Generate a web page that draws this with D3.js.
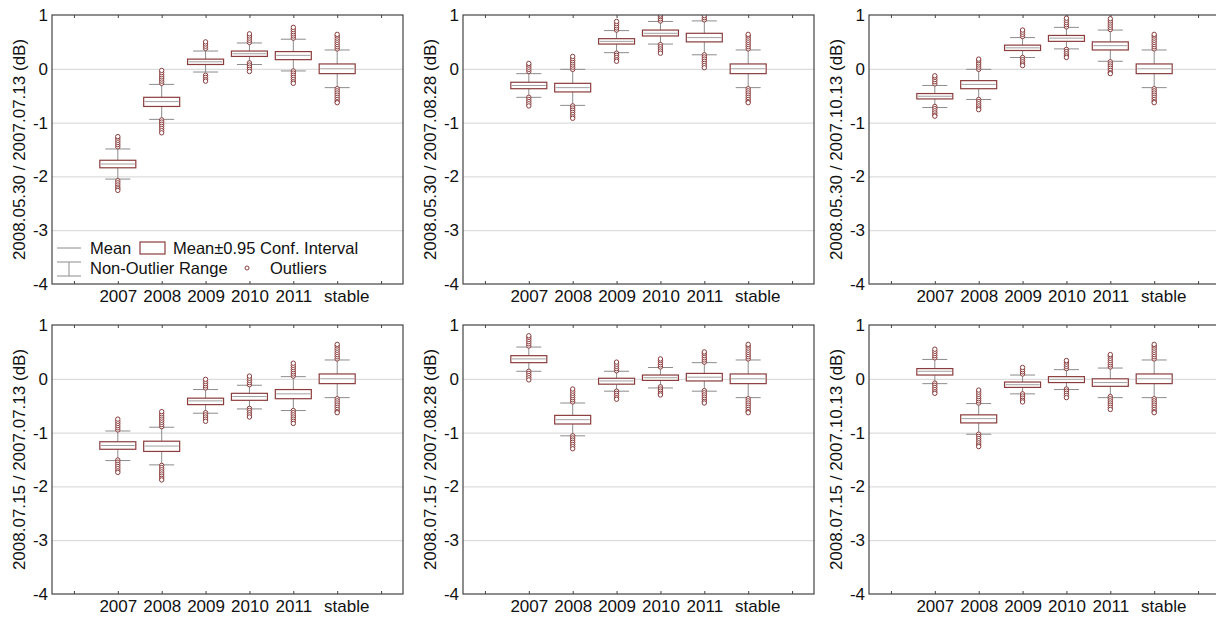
<!DOCTYPE html>
<html>
<head>
<meta charset="utf-8">
<script src="https://cdn.jsdelivr.net/npm/d3@7"></script>
<style>
  body { margin: 0; background: #fff; }
  svg { display: block; }
  svg text { font-family: "Liberation Sans", Arial, sans-serif; }
</style>
</head>
<body>
<svg width="1216" height="620"></svg>
<script>
const categories = ["2007", "2008", "2009", "2010", "2011", "stable"];
const yTicks = [1, 0, -1, -2, -3, -4];
const gridValues = [0, -1, -2, -3];

const yTitles = [
  "2008.05.30 / 2007.07.13 (dB)",
  "2008.05.30 / 2007.08.28 (dB)",
  "2008.05.30 / 2007.10.13 (dB)",
  "2008.07.15 / 2007.07.13 (dB)",
  "2008.07.15 / 2007.08.28 (dB)",
  "2008.07.15 / 2007.10.13 (dB)"
];

// mean per panel, per category
const means = [
  [-1.77, -0.61, 0.13, 0.28, 0.25, 0],
  [-0.31, -0.35, 0.51, 0.66, 0.58, 0],
  [-0.51, -0.29, 0.39, 0.57, 0.43, 0],
  [-1.24, -1.25, -0.41, -0.33, -0.28, 0],
  [0.37, -0.76, -0.04, 0.02, 0.03, 0],
  [0.14, -0.74, -0.11, -0.01, -0.07, 0]
];
// mean ± 0.95 conf. interval
const ciLow = [
  [-1.84, -0.70, 0.08, 0.23, 0.17, -0.09],
  [-0.37, -0.43, 0.46, 0.61, 0.50, -0.09],
  [-0.56, -0.37, 0.34, 0.51, 0.35, -0.09],
  [-1.31, -1.35, -0.48, -0.40, -0.37, -0.09],
  [0.30, -0.84, -0.10, -0.03, -0.04, -0.09],
  [0.07, -0.82, -0.16, -0.07, -0.14, -0.09]
];
const ciHigh = [
  [-1.70, -0.53, 0.18, 0.33, 0.32, 0.09],
  [-0.25, -0.27, 0.56, 0.72, 0.66, 0.09],
  [-0.46, -0.22, 0.44, 0.62, 0.50, 0.09],
  [-1.17, -1.16, -0.36, -0.27, -0.20, 0.09],
  [0.43, -0.68, 0.01, 0.07, 0.10, 0.09],
  [0.19, -0.67, -0.06, 0.04, 0.00, 0.09]
];
// non-outlier range
const whiskerLow = [
  [-2.05, -0.94, -0.06, 0.08, -0.04, -0.35],
  [-0.53, -0.68, 0.30, 0.46, 0.26, -0.35],
  [-0.72, -0.57, 0.21, 0.37, 0.14, -0.35],
  [-1.52, -1.60, -0.64, -0.56, -0.59, -0.35],
  [0.14, -1.06, -0.23, -0.17, -0.23, -0.35],
  [-0.09, -1.03, -0.28, -0.20, -0.35, -0.35]
];
const whiskerHigh = [
  [-1.49, -0.29, 0.33, 0.48, 0.55, 0.35],
  [-0.09, -0.01, 0.71, 0.88, 0.89, 0.35],
  [-0.31, -0.01, 0.58, 0.77, 0.72, 0.35],
  [-0.97, -0.90, -0.20, -0.12, 0.04, 0.35],
  [0.59, -0.45, 0.14, 0.21, 0.30, 0.35],
  [0.36, -0.46, 0.07, 0.17, 0.20, 0.35]
];
// outliers above the range
const outliersHigh = [
  [[-1.45, -1.41, -1.37, -1.33, -1.29, -1.26],
   [-0.27, -0.23, -0.19, -0.15, -0.11, -0.07, -0.03],
   [0.38, 0.42, 0.46, 0.50],
   [0.49, 0.53, 0.57, 0.61, 0.65],
   [0.57, 0.61, 0.65, 0.69, 0.73, 0.77],
   [0.37, 0.41, 0.45, 0.49, 0.53, 0.57, 0.61, 0.64]],
  [[-0.05, -0.01, 0.03, 0.07, 0.10],
   [-0.01, 0.03, 0.07, 0.11, 0.15, 0.19, 0.23],
   [0.72, 0.76, 0.80, 0.84, 0.88],
   [0.89, 0.93, 0.97, 1.0],
   [0.91, 0.95, 0.99],
   [0.37, 0.41, 0.45, 0.49, 0.53, 0.57, 0.61, 0.64]],
  [[-0.28, -0.24, -0.20, -0.16, -0.13],
   [-0.01, 0.03, 0.07, 0.11, 0.15, 0.18],
   [0.60, 0.64, 0.68, 0.72],
   [0.78, 0.82, 0.86, 0.90, 0.94],
   [0.73, 0.77, 0.81, 0.85, 0.89, 0.93],
   [0.37, 0.41, 0.45, 0.49, 0.53, 0.57, 0.61, 0.64]],
  [[-0.95, -0.91, -0.87, -0.83, -0.79, -0.75],
   [-0.89, -0.85, -0.81, -0.77, -0.73, -0.69, -0.65, -0.61],
   [-0.17, -0.13, -0.09, -0.05, -0.01],
   [-0.11, -0.07, -0.03, 0.01, 0.05],
   [0.05, 0.09, 0.13, 0.17, 0.21, 0.25, 0.29],
   [0.37, 0.41, 0.45, 0.49, 0.53, 0.57, 0.61, 0.64]],
  [[0.61, 0.65, 0.69, 0.73, 0.77, 0.80],
   [-0.43, -0.39, -0.35, -0.31, -0.27, -0.23, -0.19],
   [0.15, 0.19, 0.23, 0.27, 0.31],
   [0.22, 0.26, 0.30, 0.34, 0.37],
   [0.31, 0.35, 0.39, 0.43, 0.47, 0.50],
   [0.37, 0.41, 0.45, 0.49, 0.53, 0.57, 0.61, 0.64]],
  [[0.39, 0.43, 0.47, 0.51, 0.55],
   [-0.45, -0.41, -0.37, -0.33, -0.29, -0.25, -0.21],
   [0.09, 0.13, 0.17, 0.21],
   [0.19, 0.23, 0.27, 0.31, 0.34],
   [0.22, 0.26, 0.30, 0.34, 0.38, 0.42, 0.45],
   [0.37, 0.41, 0.45, 0.49, 0.53, 0.57, 0.61, 0.64]]
];
// outliers below the range
const outliersLow = [
  [[-2.08, -2.12, -2.16, -2.20, -2.23, -2.26],
   [-0.95, -0.99, -1.03, -1.07, -1.11, -1.15, -1.19],
   [-0.12, -0.16, -0.20, -0.23],
   [0.11, 0.07, 0.03, -0.01, -0.05],
   [-0.04, -0.08, -0.12, -0.16, -0.20, -0.24, -0.27],
   [-0.37, -0.41, -0.45, -0.49, -0.53, -0.57, -0.61, -0.63]],
  [[-0.53, -0.57, -0.61, -0.65, -0.69],
   [-0.69, -0.73, -0.77, -0.81, -0.85, -0.89, -0.92],
   [0.29, 0.25, 0.21, 0.17, 0.14],
   [0.45, 0.41, 0.37, 0.33, 0.29],
   [0.26, 0.22, 0.18, 0.14, 0.10, 0.06, 0.02],
   [-0.37, -0.41, -0.45, -0.49, -0.53, -0.57, -0.61, -0.63]],
  [[-0.70, -0.74, -0.78, -0.82, -0.86, -0.88],
   [-0.57, -0.61, -0.65, -0.69, -0.73, -0.76],
   [0.21, 0.17, 0.13, 0.09, 0.06],
   [0.36, 0.32, 0.28, 0.24, 0.21],
   [0.13, 0.09, 0.05, 0.01, -0.03, -0.07, -0.09],
   [-0.37, -0.41, -0.45, -0.49, -0.53, -0.57, -0.61, -0.63]],
  [[-1.51, -1.55, -1.59, -1.63, -1.67, -1.71, -1.74],
   [-1.61, -1.65, -1.69, -1.73, -1.77, -1.81, -1.85, -1.88],
   [-0.63, -0.67, -0.71, -0.75, -0.79],
   [-0.55, -0.59, -0.63, -0.67, -0.71],
   [-0.59, -0.63, -0.67, -0.71, -0.75, -0.79, -0.83],
   [-0.37, -0.41, -0.45, -0.49, -0.53, -0.57, -0.61, -0.63]],
  [[0.14, 0.10, 0.06, 0.02, -0.02],
   [-1.06, -1.10, -1.14, -1.18, -1.22, -1.26, -1.30],
   [-0.23, -0.27, -0.31, -0.35, -0.38],
   [-0.15, -0.19, -0.23, -0.27, -0.30],
   [-0.22, -0.26, -0.30, -0.34, -0.38, -0.42, -0.45],
   [-0.37, -0.41, -0.45, -0.49, -0.53, -0.57, -0.61, -0.63]],
  [[-0.08, -0.12, -0.16, -0.20, -0.24, -0.27],
   [-1.03, -1.07, -1.11, -1.15, -1.19, -1.23, -1.26],
   [-0.28, -0.32, -0.36, -0.40, -0.43],
   [-0.19, -0.23, -0.27, -0.31, -0.35],
   [-0.33, -0.37, -0.41, -0.45, -0.49, -0.53, -0.57],
   [-0.37, -0.41, -0.45, -0.49, -0.53, -0.57, -0.61, -0.63]]
];

// layout
const panelLefts = [52, 463, 869];
const rowTops = [15, 325];
const plotW = 351, plotH = 269;
const boxW = 36, capW = 25;
const red = "#8b3d3d", grey = "#8c8c8c";
const fontSize = "17px";

const svg = d3.select("svg");

// two empty slots, one each side, as in the original
const slots = ["_a", ...categories, "_b"];
const x = d3.scalePoint().domain(slots).range([0, plotW]).padding(0.5);
const y = d3.scaleLinear().domain([-4, 1]).range([plotH, 0]);

function styleAxis(a) {
  a.attr("font-family", null).attr("font-size", null);
  a.select(".domain").remove();
  a.selectAll("text").attr("font-size", fontSize).attr("fill", "#111");
}

yTitles.forEach((title, p) => {
  const left = panelLefts[p % 3], top = rowTops[Math.floor(p / 3)];
  const g = svg.append("g").attr("transform", `translate(${left}, ${top})`);

  g.append("clipPath").attr("id", "clip" + p)
    .append("rect").attr("width", plotW).attr("height", plotH);

  // grid
  g.append("g")
    .call(d3.axisLeft(y).tickValues(gridValues).tickSize(-plotW).tickFormat(""))
    .call(styleAxis)
    .selectAll("line").attr("stroke", "#d4d4d4");

  // y labels
  g.append("g")
    .call(d3.axisLeft(y).tickValues(yTicks).tickSize(0).tickPadding(4).tickFormat(d => String(d)))
    .call(styleAxis);

  // x axis bottom, ticks inward
  const xAxis = g.append("g")
    .attr("transform", `translate(0, ${plotH})`)
    .call(d3.axisBottom(x).tickSizeInner(-3).tickSizeOuter(0).tickPadding(6)
      .tickFormat(d => d.startsWith("_") ? "" : d))
    .call(styleAxis);
  xAxis.selectAll("line").attr("stroke", "#444");
  // the "stable" label sits a little right of its box in the original
  xAxis.selectAll("text").filter(d => d === "stable").attr("dx", 9);

  // x axis top, ticks only
  g.append("g")
    .call(d3.axisTop(x).tickSizeInner(-3).tickSizeOuter(0).tickFormat(""))
    .call(styleAxis)
    .selectAll("line").attr("stroke", "#444");

  // y title
  g.append("text")
    .attr("transform", "rotate(-90)")
    .attr("x", -plotH / 2)
    .attr("y", -33)
    .attr("dy", "0.35em")
    .attr("text-anchor", "middle")
    .attr("font-size", fontSize)
    .attr("fill", "#111")
    .text(title);

  const rows = categories.map((c, i) => ({
    cat: c,
    mean: means[p][i],
    lo: ciLow[p][i], hi: ciHigh[p][i],
    wLo: whiskerLow[p][i], wHi: whiskerHigh[p][i],
    outs: outliersHigh[p][i].concat(outliersLow[p][i])
  }));

  const plot = g.append("g").attr("clip-path", `url(#clip${p})`);
  const box = plot.selectAll("g.box").data(rows).enter().append("g")
    .attr("class", "box")
    .attr("transform", d => `translate(${x(d.cat)}, 0)`);

  // whiskers
  box.append("line")
    .attr("y1", d => y(d.wHi)).attr("y2", d => y(d.hi))
    .attr("stroke", grey);
  box.append("line")
    .attr("y1", d => y(d.lo)).attr("y2", d => y(d.wLo))
    .attr("stroke", grey);
  box.selectAll("line.cap").data(d => [d.wHi, d.wLo]).enter().append("line")
    .attr("class", "cap")
    .attr("x1", -capW / 2).attr("x2", capW / 2)
    .attr("y1", v => y(v)).attr("y2", v => y(v))
    .attr("stroke", grey);

  // confidence box
  box.append("rect")
    .attr("x", -boxW / 2)
    .attr("width", boxW)
    .attr("y", d => y(d.hi))
    .attr("height", d => y(d.lo) - y(d.hi))
    .attr("fill", "#fff")
    .attr("stroke", red)
    .attr("stroke-width", 1.2);
  box.append("line")
    .attr("x1", -boxW / 2 + 1).attr("x2", boxW / 2 - 1)
    .attr("y1", d => y(d.mean)).attr("y2", d => y(d.mean))
    .attr("stroke", "#a0a0a0");

  // outliers
  box.selectAll("circle").data(d => d.outs).enter().append("circle")
    .attr("cx", 0)
    .attr("cy", v => y(v))
    .attr("r", 2.2)
    .attr("fill", "#fff")
    .attr("stroke", red)
    .attr("stroke-width", 1);

  // frame
  g.append("rect")
    .attr("width", plotW).attr("height", plotH)
    .attr("fill", "none")
    .attr("stroke", "#444")
    .attr("stroke-width", 1.2);

  // legend, first panel only
  if (p === 0) {
    const lg = g.append("g").attr("font-size", "16.5px").attr("fill", "#111");
    const r1 = 233, r2 = 253;
    lg.append("line").attr("x1", 5).attr("x2", 29).attr("y1", r1).attr("y2", r1).attr("stroke", grey);
    lg.append("text").attr("x", 38).attr("y", r1).attr("dy", "0.35em").text("Mean");
    lg.append("rect").attr("x", 88).attr("y", r1 - 6).attr("width", 25).attr("height", 12)
      .attr("fill", "#fff").attr("stroke", red).attr("stroke-width", 1.2);
    lg.append("text").attr("x", 121).attr("y", r1).attr("dy", "0.35em").text("Mean±0.95 Conf. Interval");
    lg.append("line").attr("x1", 5).attr("x2", 29).attr("y1", r2 - 6).attr("y2", r2 - 6).attr("stroke", grey);
    lg.append("line").attr("x1", 5).attr("x2", 29).attr("y1", r2 + 8).attr("y2", r2 + 8).attr("stroke", grey);
    lg.append("line").attr("x1", 17).attr("x2", 17).attr("y1", r2 - 6).attr("y2", r2 + 8).attr("stroke", grey);
    lg.append("text").attr("x", 38).attr("y", r2).attr("dy", "0.35em").text("Non-Outlier Range");
    lg.append("circle").attr("cx", 195).attr("cy", r2).attr("r", 2)
      .attr("fill", "#fff").attr("stroke", red);
    lg.append("text").attr("x", 218).attr("y", r2).attr("dy", "0.35em").text("Outliers");
  }
});
</script>
</body>
</html>
